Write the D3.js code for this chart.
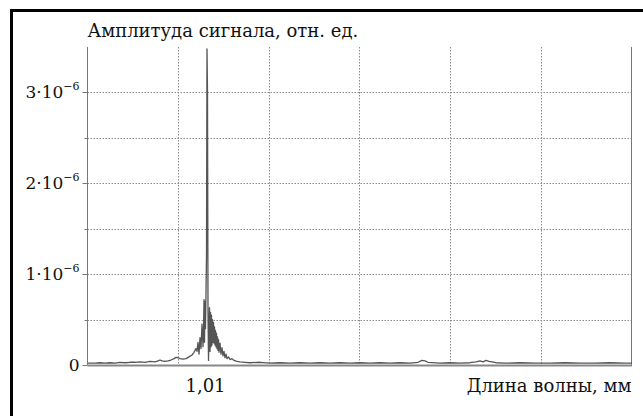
<!DOCTYPE html>
<html>
<head>
<meta charset="utf-8">
<script src="https://cdn.jsdelivr.net/npm/d3@7"></script>
<style>
  html, body { margin: 0; padding: 0; background: #fff; overflow: hidden; }
  svg { display: block; }
  svg text { font-family: "DejaVu Serif", serif; }
</style>
</head>
<body>
<div id="wrap"></div>
<script>
// длина волны, мм
const wavelength = [
  0.99825, 0.99895, 0.99945, 0.99995, 1.00045, 1.00095, 1.00145, 1.00195, 1.00245, 1.00295,
  1.00345, 1.00395, 1.00445, 1.00495, 1.00525, 1.00545, 1.00565, 1.00595, 1.00625, 1.00655,
  1.00685, 1.00705, 1.00725, 1.00745, 1.00775, 1.00805, 1.00835, 1.00865, 1.00885, 1.00905,
  1.00915, 1.00925, 1.00935, 1.00945, 1.00955, 1.00965, 1.00975, 1.0098, 1.00985, 1.0099,
  1.00995, 1.0100, 1.01005, 1.0101, 1.01015, 1.0102, 1.01025, 1.0103, 1.01035, 1.0104,
  1.01045, 1.0105, 1.01055, 1.0106, 1.01065, 1.0107, 1.01075, 1.0108, 1.01085, 1.0109,
  1.01095, 1.0110, 1.01105, 1.0111, 1.01115, 1.0112, 1.01125, 1.0113, 1.01135, 1.01145,
  1.01155, 1.01165, 1.01175, 1.01185, 1.01195, 1.01205, 1.01215, 1.0123, 1.01245, 1.01265,
  1.01285, 1.01315, 1.01345, 1.01395, 1.01445, 1.01545, 1.01645, 1.01745, 1.01845, 1.01945,
  1.02045, 1.02145, 1.02245, 1.02345, 1.02445, 1.02545, 1.02645, 1.02745, 1.02845, 1.02945,
  1.03045, 1.03125, 1.03165, 1.03195, 1.03225, 1.03345, 1.03445, 1.03545, 1.03645, 1.03705,
  1.03745, 1.03775, 1.03805, 1.03835, 1.03865, 1.03905, 1.03995, 1.04145, 1.04295, 1.04445,
  1.04595, 1.04745, 1.04895, 1.05045, 1.05195, 1.05265
];
// амплитуда сигнала, в единицах 1e-6
const amplitude = [
  0.02, 0.02, 0.025, 0.02, 0.025, 0.02, 0.03, 0.025, 0.03, 0.03,
  0.035, 0.03, 0.04, 0.035, 0.045, 0.055, 0.045, 0.04, 0.045, 0.055,
  0.07, 0.085, 0.08, 0.07, 0.065, 0.07, 0.09, 0.11, 0.14, 0.18,
  0.15, 0.25, 0.12, 0.30, 0.18, 0.45, 0.20, 0.35, 0.72, 0.25,
  0.70, 0.40, 0.80, 1.2, 3.48, 3.0, 0.6, 0.05, 0.3, 0.63,
  0.15, 0.58, 0.20, 0.55, 0.22, 0.50, 0.25, 0.47, 0.24, 0.42,
  0.22, 0.38, 0.20, 0.35, 0.18, 0.31, 0.16, 0.28, 0.14, 0.24,
  0.12, 0.19, 0.10, 0.15, 0.08, 0.12, 0.07, 0.09, 0.06, 0.07,
  0.05, 0.04, 0.035, 0.03, 0.025, 0.03, 0.02, 0.025, 0.02, 0.025,
  0.02, 0.025, 0.02, 0.025, 0.02, 0.025, 0.02, 0.025, 0.02, 0.025,
  0.02, 0.03, 0.05, 0.045, 0.03, 0.02, 0.025, 0.02, 0.025, 0.035,
  0.045, 0.035, 0.05, 0.04, 0.035, 0.025, 0.02, 0.025, 0.02, 0.02,
  0.025, 0.02, 0.02, 0.025, 0.02, 0.02
];
// подписи осей
const yTicks = [0, 1, 2, 3];
const yMinorTicks = [0.5, 1.5, 2.5];
const xLabelTicks = [1.01];

drawChart();
function drawChart(){
  const WIDTH = 643;
  const HEIGHT = 416;
  const LEFT = 87.5, RIGHT = 631.5, TOP = 47, BOTTOM = 365;

  const svg = d3.select('#wrap')
    .append('svg')
    .attr('width', WIDTH)
    .attr('height', HEIGHT);

  // рамка (видны только левая и верхняя стороны)
  svg.append('line')
    .attr('x1', 11.5).attr('x2', 11.5).attr('y1', 9).attr('y2', HEIGHT)
    .attr('stroke', '#000').attr('stroke-width', 3);
  svg.append('line')
    .attr('x1', 10).attr('x2', WIDTH).attr('y1', 10.5).attr('y2', 10.5)
    .attr('stroke', '#000').attr('stroke-width', 3);

  const xScale = d3.scaleLinear().domain([0.9982, 1.0526]).range([LEFT, RIGHT]);
  const yScale = d3.scaleLinear().domain([0, 3.5]).range([BOTTOM, TOP]);

  const [x0, x1] = xScale.domain();
  const gridX = d3.range(7).map(i => x0 + i * (x1 - x0) / 6);
  const gridY = yTicks.concat(yMinorTicks);

  // сетка
  svg.append('g')
    .selectAll('line')
    .data(gridX.slice(1, -1))
    .enter()
    .append('line')
    .attr('x1', d => Math.round(xScale(d)) + 0.5)
    .attr('x2', d => Math.round(xScale(d)) + 0.5)
    .attr('y1', TOP)
    .attr('y2', BOTTOM)
    .attr('stroke', '#8a8a8a')
    .attr('stroke-dasharray', '1.5,1.5');

  svg.append('g')
    .selectAll('line')
    .data(gridY.filter(d => d > 0))
    .enter()
    .append('line')
    .attr('x1', LEFT)
    .attr('x2', RIGHT)
    .attr('y1', d => Math.round(yScale(d)) + 0.5)
    .attr('y2', d => Math.round(yScale(d)) + 0.5)
    .attr('stroke', '#8a8a8a')
    .attr('stroke-dasharray', '1.5,1.5');

  // оси
  svg.append('line')
    .attr('x1', LEFT).attr('x2', LEFT).attr('y1', TOP).attr('y2', BOTTOM)
    .attr('stroke', '#777');
  svg.append('line')
    .attr('x1', RIGHT).attr('x2', RIGHT).attr('y1', TOP).attr('y2', BOTTOM + 1)
    .attr('stroke', '#777');
  svg.append('line')
    .attr('x1', LEFT).attr('x2', RIGHT + 0.5).attr('y1', BOTTOM + 0.5).attr('y2', BOTTOM + 0.5)
    .attr('stroke', '#888')
    .attr('stroke-width', 2);

  // деления оси Y
  svg.append('g')
    .selectAll('line')
    .data(yTicks)
    .enter()
    .append('line')
    .attr('x1', LEFT - 5).attr('x2', LEFT)
    .attr('y1', d => Math.round(yScale(d)) + 0.5)
    .attr('y2', d => Math.round(yScale(d)) + 0.5)
    .attr('stroke', '#777');
  svg.append('g')
    .selectAll('line')
    .data(yMinorTicks)
    .enter()
    .append('line')
    .attr('x1', LEFT - 3).attr('x2', LEFT)
    .attr('y1', d => Math.round(yScale(d)) + 0.5)
    .attr('y2', d => Math.round(yScale(d)) + 0.5)
    .attr('stroke', '#777');

  // подписи оси Y
  const yLabels = svg.append('g')
    .selectAll('text')
    .data(yTicks)
    .enter()
    .append('text')
    .attr('x', LEFT - 8)
    .attr('y', d => yScale(d) + 6)
    .attr('text-anchor', 'end')
    .style('font-size', '17px')
    .attr('fill', '#111');
  yLabels.filter(d => d === 0).text('0');
  yLabels.filter(d => d !== 0).each(function(d){
    const t = d3.select(this);
    t.append('tspan').text(d + '·10');
    t.append('tspan').attr('dy', -8).style('font-size', '11px').text('−6');
  });

  // подписи оси X
  svg.append('g')
    .selectAll('text')
    .data(xLabelTicks)
    .enter()
    .append('text')
    .attr('x', d => xScale(d))
    .attr('y', 392)
    .attr('text-anchor', 'middle')
    .style('font-size', '18px')
    .attr('fill', '#111')
    .text(d => String(d).replace('.', ','));

  svg.append('text')
    .attr('x', RIGHT)
    .attr('y', 392)
    .attr('text-anchor', 'end')
    .style('font-size', '18px')
    .attr('fill', '#111')
    .text('Длина волны, мм');

  svg.append('text')
    .attr('x', LEFT)
    .attr('y', 37)
    .style('font-size', '18px')
    .attr('fill', '#111')
    .text('Амплитуда сигнала, отн. ед.');

  // спектр
  const points = wavelength.map((w, i) => [w, amplitude[i]]);
  const line = d3.line()
    .x(d => xScale(d[0]))
    .y(d => yScale(d[1]));
  svg.append('path')
    .datum(points)
    .attr('d', line)
    .attr('fill', 'none')
    .attr('stroke', '#555')
    .attr('stroke-width', 1.3)
    .attr('stroke-linejoin', 'round');
}
</script>
</body>
</html>
